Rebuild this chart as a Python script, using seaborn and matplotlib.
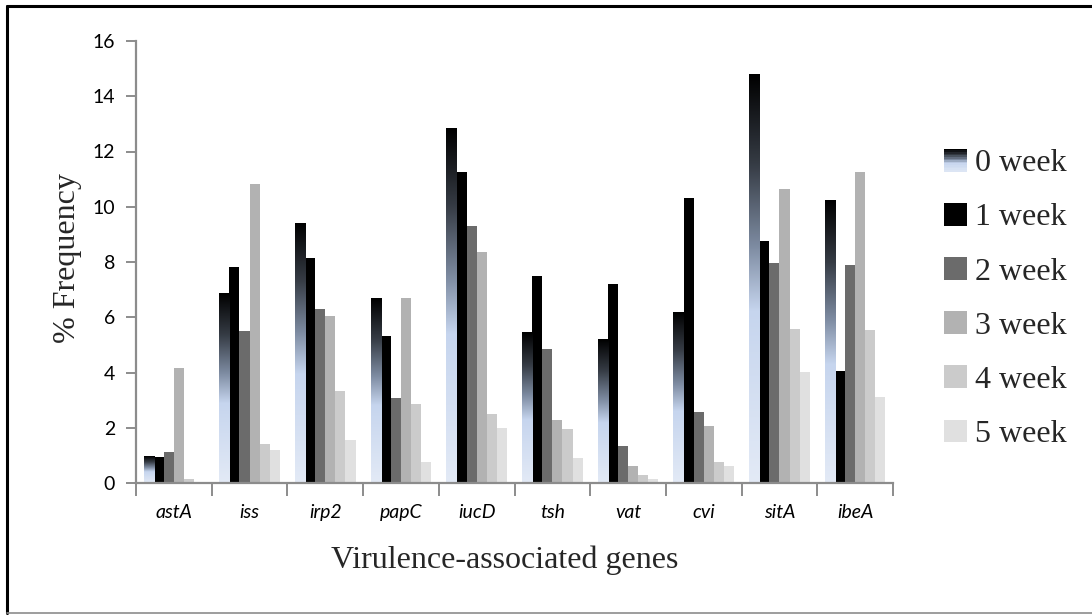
import numpy as np
import pandas as pd
import matplotlib
matplotlib.use("Agg")
import matplotlib.pyplot as plt
import seaborn as sns
from matplotlib.colors import LinearSegmentedColormap
from matplotlib.patches import Rectangle
from matplotlib.legend_handler import HandlerPatch
from matplotlib.lines import Line2D

# Virulence-associated gene frequencies (%) by sampling week
genes = ["astA", "iss", "irp2", "papC", "iucD", "tsh", "vat", "cvi", "sitA", "ibeA"]
weeks = ["0 week", "1 week", "2 week", "3 week", "4 week", "5 week"]

week0 = [0.97, 6.87, 9.41, 6.69, 12.85, 5.46, 5.21, 6.19, 14.80, 10.24]
week1 = [0.93, 7.81, 8.13, 5.31, 11.27, 7.50, 7.19, 10.31, 8.76, 4.06]
week2 = [1.13, 5.51, 6.31, 3.06, 9.29, 4.85, 1.35, 2.58, 7.97, 7.89]
week3 = [4.15, 10.84, 6.05, 6.68, 8.35, 2.28, 0.61, 2.06, 10.64, 11.27]
week4 = [0.15, 1.40, 3.33, 2.86, 2.51, 1.94, 0.30, 0.76, 5.57, 5.53]
week5 = [0.00, 1.21, 1.55, 0.76, 2.00, 0.90, 0.15, 0.61, 4.01, 3.11]

series = [week0, week1, week2, week3, week4, week5]
df = pd.DataFrame(
    [(g, w, v) for w, vals in zip(weeks, series) for g, v in zip(genes, vals)],
    columns=["gene", "week", "freq"],
)

palette = ["#8a9ab3", "#000000", "#6b6b6b", "#b2b2b2", "#cbcbcb", "#e0e0e0"]
grad = LinearSegmentedColormap.from_list(
    "steel",
    [(0.0, "#000000"), (0.22, "#363c45"), (0.42, "#7d8ba1"),
     (0.58, "#c6d5ee"), (1.0, "#e3eaf6")],
)

sns.set_theme(style="white")
plt.rcParams["font.family"] = ["Lato", "DejaVu Sans"]

fig = plt.figure(figsize=(10.92, 6.15), dpi=100)
ax = fig.add_axes([136 / 1092, 1 - 483 / 615, (893 - 136) / 1092, (483 - 41) / 615])

sns.barplot(data=df, x="gene", y="freq", hue="week", order=genes, hue_order=weeks,
            palette=palette, width=0.8, saturation=1, gap=0, linewidth=0,
            legend=False, ax=ax)

# Vertical steel-blue gradient inside each 0-week bar
gradient = np.linspace(0, 1, 256).reshape(-1, 1)
for bar in ax.containers[0]:
    x0, y0 = bar.get_x(), bar.get_y()
    w, h = bar.get_width(), bar.get_height()
    if h <= 0:
        continue
    bar.set_facecolor("none")
    im = ax.imshow(gradient, cmap=grad, aspect="auto", origin="upper",
                   extent=(x0, x0 + w, y0, y0 + h), zorder=bar.get_zorder(),
                   interpolation="bilinear")
    im.set_clip_path(bar)
ax.set_xlim(-0.5, len(genes) - 0.5)
ax.set_ylim(0, 16)

# Axes styling
axis_grey = "#8c8c8c"
for side in ["top", "right"]:
    ax.spines[side].set_visible(False)
for side in ["left", "bottom"]:
    ax.spines[side].set_color(axis_grey)
    ax.spines[side].set_linewidth(1.6)

ax.set_yticks(np.arange(0, 17, 2))
ax.tick_params(axis="y", which="major", direction="out", length=7, width=1.4,
               color=axis_grey, pad=8, labelsize=14, labelcolor="black", left=True)
ax.set_xticks(np.arange(len(genes)))
ax.set_xticklabels(genes, fontstyle="italic")
ax.set_xticks(np.arange(-0.5, len(genes), 1), minor=True)
ax.tick_params(axis="x", which="major", length=0, pad=15, labelsize=14, labelcolor="black")
ax.tick_params(axis="x", which="minor", direction="out", length=9, width=1.4,
               color=axis_grey, bottom=True)

serif = ["Liberation Serif", "DejaVu Serif"]
ax.set_xlabel("")
ax.set_ylabel("")
fig.text(68 / 1092, 1 - 258 / 615, "% Frequency", rotation=90, ha="center", va="center",
         fontsize=23, family=serif)
fig.text(505 / 1092, 1 - 560 / 615, "Virulence-associated genes", ha="center", va="center",
         fontsize=23, family=serif)


# Legend swatch with diagonal gradient for the 0-week series
class GradientHandler(HandlerPatch):
    def create_artists(self, legend, orig_handle, xdescent, ydescent, width, height,
                       fontsize, trans):
        n = 14
        arts = []
        for i in range(n):
            frac = i / (n - 1)
            r = Rectangle((-xdescent, -ydescent + height * (1 - (i + 1) / n)),
                          width, height / n, facecolor=grad(frac * 0.9),
                          edgecolor="none", transform=trans)
            arts.append(r)
        return arts


handles = [Rectangle((0, 0), 1, 1, facecolor=c, edgecolor="none") for c in palette]
leg = fig.legend(handles, weeks, loc="upper left", bbox_to_anchor=(931 / 1092, 1 - 136 / 615),
                 frameon=False, prop={"family": serif, "size": 23},
                 handlelength=0.72, handleheight=0.72, handletextpad=0.25,
                 labelspacing=0.77, borderaxespad=0,
                 handler_map={handles[0]: GradientHandler()})

# Outer frame
fig.add_artist(Line2D([7 / 1092, 1.0], [1 - 5.5 / 615] * 2, transform=fig.transFigure,
                      color="black", linewidth=2.2))
fig.add_artist(Line2D([7 / 1092] * 2, [1 - 5.5 / 615, 1 - 613 / 615],
                      transform=fig.transFigure, color="black", linewidth=2.2))
fig.add_artist(Line2D([7 / 1092, 1.0], [1 - 613 / 615] * 2, transform=fig.transFigure,
                      color="#8c8c8c", linewidth=1.2))

fig.savefig("out.png", dpi=100, facecolor="white")
